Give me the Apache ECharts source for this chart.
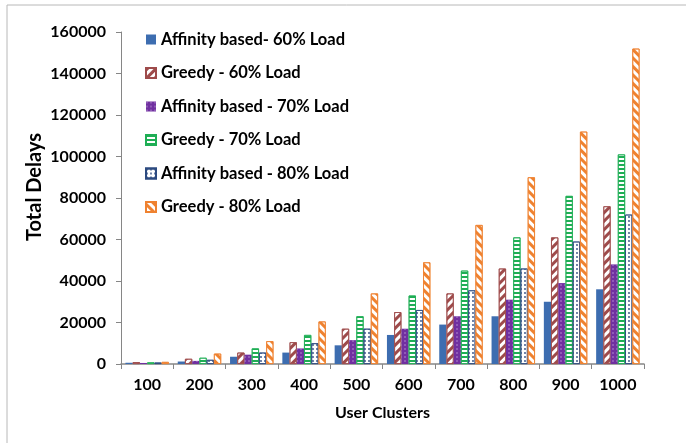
<!DOCTYPE html>
<html><head><meta charset="utf-8">
<script src="https://cdn.jsdelivr.net/npm/echarts@6/dist/echarts.min.js"></script>
<style>html,body{margin:0;padding:0;background:#fff}#c{width:686px;height:443px}</style>
</head><body><div id="c"></div>
<script>
const categories = ['100','200','300','400','500','600','700','800','900','1000'];
const yTicks = [0,20000,40000,60000,80000,100000,120000,140000,160000];
const seriesNames = ['Affinity based- 60% Load','Greedy - 60% Load','Affinity based - 70% Load','Greedy - 70% Load','Affinity based - 80% Load','Greedy - 80% Load'];
const aff60 = [600,1200,3500,5500,9000,14000,19000,23000,30000,36000];
const greedy60 = [900,2500,5500,10500,17000,25000,34000,46000,61000,76000];
const aff70 = [500,1500,4500,7500,11500,17000,23000,31000,39000,48000];
const greedy70 = [800,3000,7500,14000,23000,33000,45000,61000,81000,101000];
const aff80 = [700,2000,5500,10000,17000,26000,35500,46000,59000,72000];
const greedy80 = [1000,5000,11000,20500,34000,49000,67000,90000,112000,152000];
const allData = [aff60,greedy60,aff70,greedy70,aff80,greedy80];

const styles = [
  {color:'#3d6db0', decal:null},
  {color:'#ffffff', border:'#9e4b4b', decal:{symbol:'rect',symbolSize:1,color:'#9e4b4b',dashArrayX:[1,0],dashArrayY:[3,3],rotation:-Math.PI/4}},
  {color:'#7030a0', decal:{symbol:'circle',symbolSize:0.7,color:'#c9a8e0',dashArrayX:[[2,2]],dashArrayY:[2,2]}},
  {color:'#ffffff', border:'#1fae55', decal:{symbol:'rect',symbolSize:1,color:'#1fae55',dashArrayX:[1,0],dashArrayY:[2,2],rotation:0}},
  {color:'#ffffff', border:'#2c4a80', decal:{symbol:'circle',symbolSize:0.9,color:'#2c4a80',dashArrayX:[[2,2]],dashArrayY:[2,2]}},
  {color:'#ffffff', border:'#ef8230', decal:{symbol:'rect',symbolSize:1,color:'#ef8230',dashArrayX:[1,0],dashArrayY:[3,3],rotation:Math.PI/4}}
];

const chart = echarts.init(document.getElementById('c'), null, {renderer:'canvas'});
const font = 'Lato';
chart.setOption({
  animation:false,
  aria:{enabled:false},
  grid:{left:121,right:42,top:32,bottom:79,containLabel:false},
  legend:{
    orient:'vertical', left:145, top:31, padding:0, itemGap:16.5, itemWidth:10, itemHeight:10,
    icon:'rect',
    textStyle:{fontFamily:font,fontWeight:'bold',fontSize:16.5,color:'#000'},
    data:seriesNames
  },
  xAxis:{
    type:'category', data:categories,
    name:'User Clusters', nameLocation:'middle', nameGap:41,
    nameTextStyle:{fontFamily:font,fontWeight:'bold',fontSize:16,color:'#000'},
    axisLine:{lineStyle:{color:'#868686',width:1.5}},
    axisTick:{show:true,length:5,lineStyle:{color:'#868686'}},
    axisLabel:{fontFamily:font,fontWeight:'bold',fontSize:16,color:'#000',margin:13}
  },
  yAxis:{
    type:'value', min:0, max:160000, interval:20000,
    axisLine:{show:true,lineStyle:{color:'#868686'}},
    axisTick:{show:true,length:5,lineStyle:{color:'#868686'}},
    splitLine:{show:false},
    axisLabel:{fontFamily:font,fontWeight:'bold',fontSize:16,color:'#000',margin:15,formatter:v=>String(v)}
  },
  series: seriesNames.map((n,i)=>({
    name:n, type:'bar', data:allData[i],
    barGap:'0%', barCategoryGap:'17%',
    itemStyle:{
      color:styles[i].color,
      borderColor:styles[i].border||styles[i].color,
      borderWidth:styles[i].border?0.8:0,
      decal:styles[i].decal||undefined
    }
  })),
  graphic:[
    {type:'line',shape:{x1:7,y1:5,x2:7,y2:443},style:{stroke:'#b8b8b8',lineWidth:1}},
    {type:'line',shape:{x1:7,y1:5,x2:686,y2:5},style:{stroke:'#b8b8b8',lineWidth:1}},
    {type:'text',x:35,y:187,rotation:Math.PI/2,style:{text:'Total Delays',align:'center',verticalAlign:'middle',fontFamily:font,fontWeight:'bold',fontSize:20,fill:'#000'}}
  ]
});
</script></body></html>
